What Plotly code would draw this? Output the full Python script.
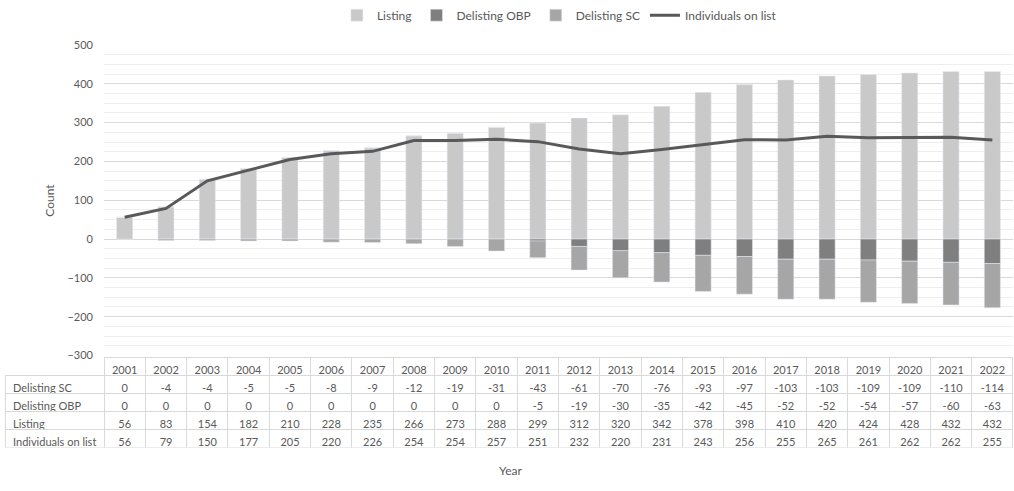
import plotly.graph_objects as go

years = [str(y) for y in range(2001, 2023)]
delisting_sc = [0, -4, -4, -5, -5, -8, -9, -12, -19, -31, -43, -61, -70, -76, -93, -97, -103, -103, -109, -109, -110, -114]
delisting_obp = [0, 0, 0, 0, 0, 0, 0, 0, 0, 0, -5, -19, -30, -35, -42, -45, -52, -52, -54, -57, -60, -63]
listing = [56, 83, 154, 182, 210, 228, 235, 266, 273, 288, 299, 312, 320, 342, 378, 398, 410, 420, 424, 428, 432, 432]
individuals = [56, 79, 150, 177, 205, 220, 226, 254, 254, 257, 251, 232, 220, 231, 243, 256, 255, 265, 261, 262, 262, 255]
row_labels = ["Delisting SC", "Delisting OBP", "Listing", "Individuals on list"]

FONT = "Lato, 'Open Sans', sans-serif"
TXT = "#595959"
W, H = 1014, 491
ml, mr, mt, mb = 5, 1, 43, 40
pw, ph = W - ml - mr, H - mt - mb

def fx(px):
    return (px - ml) / pw

def fy(py):
    return (H - mb - py) / ph

fig = go.Figure()
fig.add_trace(go.Bar(x=years, y=listing, name="Listing", marker_color="#c9c9c9"))
fig.add_trace(go.Bar(x=years, y=delisting_obp, name="Delisting OBP", marker_color="#7f7f7f"))
fig.add_trace(go.Bar(x=years, y=delisting_sc, name="Delisting SC", marker_color="#a6a6a6"))
fig.add_trace(go.Scatter(x=years, y=individuals, name="Individuals on list", mode="lines",
                         line=dict(color="#595959", width=3)))

labels_nb = [s.replace(" ", "\u00a0") for s in row_labels]
cols = [labels_nb] + [[delisting_sc[i], delisting_obp[i], listing[i], individuals[i]] for i in range(len(years))]
fig.add_trace(go.Table(
    domain=dict(x=[0, 1], y=[fy(448), fy(357)]),
    columnwidth=[99] + [41.3] * len(years),
    header=dict(values=[""] + years, height=18, fill_color="rgba(0,0,0,0)",
                line=dict(color=["rgba(0,0,0,0)"] + ["#d9d9d9"] * len(years), width=1),
                font=dict(family=FONT, size=11, color=TXT), align="center"),
    cells=dict(values=cols, height=18, fill_color="white",
               line=dict(color="#d9d9d9", width=1),
               font=dict(family=FONT, size=11, color=TXT),
               align=["left"] + ["center"] * len(years)),
))

fig.update_layout(
    width=W, height=H,
    margin=dict(l=ml, r=mr, t=mt, b=mb),
    paper_bgcolor="white", plot_bgcolor="white",
    barmode="relative", bargap=0.61,
    font=dict(family=FONT, size=11, color=TXT),
    legend=dict(orientation="h", x=0.55, xanchor="center", y=1 + (mt - 13) / ph, yanchor="middle",
                font=dict(family=FONT, size=12, color=TXT), traceorder="normal"),
    xaxis=dict(domain=[fx(104), 1], showticklabels=False, showgrid=False, ticks="",
               showline=False, zeroline=False, type="category"),
    yaxis=dict(domain=[fy(355), 1], range=[-300, 500], dtick=100, showgrid=True,
               gridcolor="#d9d9d9", gridwidth=1, zeroline=False, showline=False,
               tickfont=dict(family=FONT, size=11, color=TXT), ticks="", ticklabelstandoff=10,
               minor=dict(dtick=25, showgrid=True, gridcolor="#eeeeee", gridwidth=1)),
    annotations=[
        dict(text="Count", x=fx(40), y=fy(199), xref="paper", yref="paper", textangle=-90,
             showarrow=False, font=dict(family=FONT, size=12, color=TXT)),
        dict(text="Year", x=fx(510), y=fy(480), xref="paper", yref="paper",
             showarrow=False, font=dict(family=FONT, size=12, color=TXT)),
    ],
)

fig.write_html("out.html")
